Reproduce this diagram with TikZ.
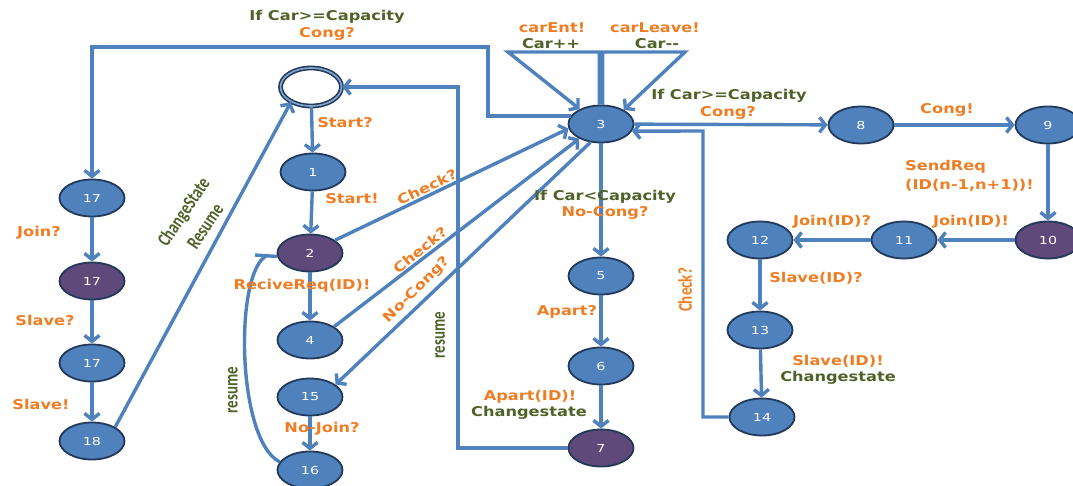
\documentclass[tikz,border=0pt]{standalone}
\usepackage{fontspec}
\usetikzlibrary{shapes.geometric,arrows.meta}
\newfontfamily\lblfont[FakeStretch=1.2]{DejaVu Sans}
\newfontfamily\numfont[FakeStretch=1.3]{DejaVu Sans}
\newfontfamily\rotfont{Carlito}
\definecolor{edgeblue}{HTML}{4F81BD}
\definecolor{nodeblue}{HTML}{4F81BD}
\definecolor{nodeborder}{HTML}{22395A}
\definecolor{nodepurple}{HTML}{5F497A}
\definecolor{lorange}{HTML}{EE7D24}
\definecolor{lgreen}{HTML}{4F6228}
\newcommand{\tall}[1]{\scalebox{1}[1.3]{#1}}
\begin{document}
\begin{tikzpicture}[x=1pt,y=-1pt,
  st/.style={ellipse, draw=nodeborder, line width=1.8pt, fill=nodeblue,
    minimum width=65pt, minimum height=37pt, inner sep=0pt,
    font=\numfont\fontsize{11}{13}\selectfont, text=white},
  pst/.style={st, fill=nodepurple},
  edge/.style={draw=edgeblue, line width=3.4pt},
  arr/.style={edge, -{Straight Barb[length=6pt,width=15pt]}},
  ol/.style={text=lorange, font=\lblfont\bfseries\fontsize{13.5}{15}\selectfont, inner sep=0pt},
  gl/.style={ol, text=lgreen},
  rl/.style={font=\rotfont\bfseries\fontsize{15}{17}\selectfont, inner sep=0pt}
]
\useasboundingbox (0,0) rectangle (1073,486);

% states
\node[ellipse, minimum width=61pt, minimum height=38pt, inner sep=0pt, fill=white,
  draw=nodeborder, line width=1.6pt, double=edgeblue!70, double distance=1.6pt] (s0) at (311,87) {};
\node[st] (n1) at (313,172) {1};
\node[pst] (n2) at (310,253) {2};
\node[st] (n3) at (601,124) {3};
\node[st] (n4) at (310,340) {4};
\node[st] (n5) at (601,276) {5};
\node[st] (n6) at (601,366) {6};
\node[pst] (n7) at (601,448) {7};
\node[st] (n8) at (861,125) {8};
\node[st] (n9) at (1048,125) {9};
\node[pst] (n10) at (1048,240) {10};
\node[st] (n11) at (904,240) {11};
\node[st] (n12) at (760,240) {12};
\node[st] (n13) at (760,330) {13};
\node[st] (n14) at (762,417) {14};
\node[st] (n15) at (310,397) {15};
\node[st] (n16) at (310,470) {16};
\node[st] (n17a) at (92,198) {17};
\node[pst] (n17b) at (92,281) {17};
\node[st] (n17c) at (92,363) {17};
\node[st] (n18) at (92,441) {18};

% bend points
\coordinate (a1) at (488,47);
\coordinate (l1) at (508,52);
\coordinate (r1) at (685,52);
\coordinate (c14) at (703,131);
\coordinate (c7) at (458,87);
\coordinate (t2) at (255,255);
\coordinate (k16) at (268,255);

% transitions
\draw[arr] (s0) -- (n1);
\draw[arr] (n1) -- (n2);
\draw[arr] (n2) -- (n4);
\draw[arr] (n15) -- (n16);
\draw[arr] (n2.27) -- (n3.188);
\draw[arr] (n4.29) -- (n3.214);
\draw[arr] (n3.240) -- (n15.26);
\draw[arr] (n3) -- (n5);
\draw[arr] (n5) -- (n6);
\draw[arr] (n6) -- (n7);
\draw[arr] (n3) -- (n8);
\draw[arr] (n8) -- (n9);
\draw[arr] (n9) -- (n10);
\draw[arr] (n10) -- (n11);
\draw[arr] (n11) -- (n12);
\draw[arr] (n12) -- (n13);
\draw[arr] (n13) -- (n14);
\draw[arr] (n17a) -- (n17b);
\draw[arr] (n17b) -- (n17c);
\draw[arr] (n17c) -- (n18);
\draw[arr] (n18.31) -- (s0.217);
\draw[arr] (n3.165) -| (a1) -| (n17a);
\draw[arr] (n3.95) |- (l1) -- (n3.145);
\draw[arr] (n3.85) |- (r1) -- (n3.32);
\draw[arr] (n14.west) -| (c14) -- (n3.-13);
\draw[arr] (n7.west) -| (c7) -- (s0.east);
\draw[edge] (n16.165) .. controls (236,440) and (234,268) .. (k16);
\draw[edge] (t2) -- (n2.186);

% labels
\node[gl] (tA1) at (327,17) {If Car>=Capacity};
\node[ol] (tA2) at (327,34) {Cong?};
\node[ol] (tE1) at (552,28) {carEnt!};
\node[gl] (tE2) at (551,44) {Car++};
\node[ol] (tL1) at (655,28) {carLeave!};
\node[gl] (tL2) at (657,44) {Car--};
\node[gl] (tB1) at (729,96) {If Car>=Capacity};
\node[ol] (tB2) at (728,113) {Cong?};
\node[ol] (tC) at (947,110) {Cong!};
\node[ol, anchor=west] (tS1) at (905,167) {SendReq};
\node[ol, anchor=west] (tS2) at (905,185) {(ID(n-1,n+1))!};
\node[ol] (tJ1) at (971,222) {Join(ID)!};
\node[ol] (tJ2) at (832,222) {Join(ID)?};
\node[ol] (tV1) at (816,278) {Slave(ID)?};
\node[ol] (tV2) at (838,361) {Slave(ID)!};
\node[gl] (tV3) at (838,378) {Changestate};
\node[gl] (tN1) at (605,197) {If Car<Capacity};
\node[ol] (tN2) at (605,213) {No-Cong?};
\node[ol] (tP1) at (567,312) {Apart?};
\node[ol] (tP2) at (530,397) {Apart(ID)!};
\node[gl] (tP3) at (529,413) {Changestate};
\node[ol] (tNJ) at (322,429) {No-Join?};
\node[ol] (tR) at (302,286) {ReciveReq(ID)!};
\node[ol] (tS) at (345,123) {Start?};
\node[ol] (tS3) at (352,199) {Start!};
\node[ol] (tJ) at (39,233) {Join?};
\node[ol] (tSl1) at (45,320) {Slave?};
\node[ol] (tSl2) at (41,404) {Slave!};
\node[ol, rotate=25.5] (tK1) at (427,187) {Check?};
\node[ol, rotate=39] (tK2) at (420,250) {Check?};
\node[ol, rotate=45] (tK3) at (417,290) {No-Cong?};
\node[rl, text=lgreen, rotate=90] (tRe1) at (233,390) {\tall{resume}};
\node[rl, text=lgreen, rotate=90] (tRe2) at (440,335) {\tall{resume}};
\node[rl, text=lorange, rotate=90] (tK4) at (685,290) {\tall{Check?}};
\node[rl, text=lgreen, rotate=56, align=center] (tCS) at (194,219)
  {\tall{ChangeState}\\[9pt]\tall{Resume}};
\end{tikzpicture}
\end{document}
